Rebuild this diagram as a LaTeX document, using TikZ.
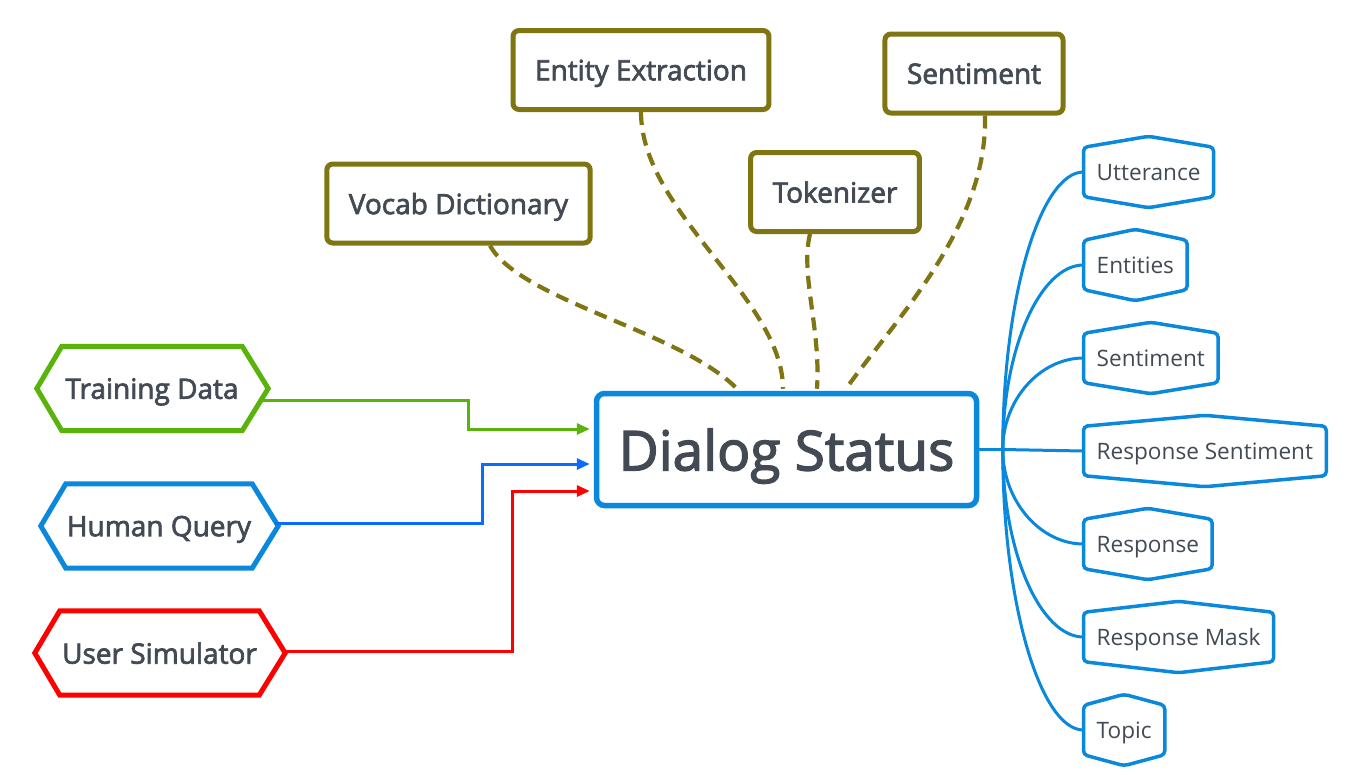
\documentclass[tikz,border=0pt]{standalone}
\usepackage{fontspec}
\setmainfont{Open Sans}
\newfontfamily\semib{Open Sans}[FakeBold=2.5]
\usetikzlibrary{arrows.meta}
\definecolor{txt}{HTML}{434A54}
\definecolor{olv}{HTML}{7F7512}
\definecolor{blu}{HTML}{0A88DC}
\definecolor{grn}{HTML}{58B40A}
\definecolor{qblue}{HTML}{0A6CFF}
\definecolor{rd}{HTML}{FF0000}
\newcommand\leafshape[1]{\draw[leafline] (#1.west) -- (#1.north west) -- ([yshift=11pt]#1.north) -- (#1.north east) -- (#1.south east) -- ([yshift=-11pt]#1.south) -- (#1.south west) -- cycle;}
\newcommand\hexshape[2]{\draw[hexline,draw=#2] (#1.north west) -- (#1.north east) -- ([xshift=26pt]#1.east) -- (#1.south east) -- (#1.south west) -- ([xshift=-25pt]#1.west) -- cycle;}
\tikzset{
  olivebox/.style={draw=olv, line width=5pt, rounded corners=6pt, fill=white, text=txt,
    font=\semib\fontsize{28}{32}\selectfont, text depth=0pt, inner xsep=22pt, inner ysep=0pt, minimum height=79pt},
  hexlabel/.style={text=txt, font=\semib\fontsize{28}{32}\selectfont, text depth=0pt, inner sep=0pt, minimum height=84pt},
  hexline/.style={line width=5pt, line join=miter},
  leaflabel/.style={text=txt, font=\fontsize{22.6}{26}\selectfont, text depth=0pt, inner xsep=13pt, inner ysep=0pt, minimum height=49pt},
  leafline/.style={draw=blu, line width=3.5pt, rounded corners=4pt},
  dashcurve/.style={draw=olv, line width=4.2pt, dash pattern=on 13pt off 8pt},
  arr/.style={line width=3pt, -{Triangle[length=13pt,width=11pt]}},
  branch/.style={draw=blu, line width=3pt},
  mainbox/.style={draw=blu, line width=5.5pt, rounded corners=8pt, fill=white, text=txt,
    font=\semib\fontsize{55}{62}\selectfont, text depth=0pt, minimum width=380pt, minimum height=112pt, inner sep=0pt},
}
\begin{document}
\begin{tikzpicture}[x=1pt,y=-1pt]
\useasboundingbox (0,0) rectangle (1367,774);
\fill[white] (0,0) rectangle (1367,774);

% main node
\node[mainbox] (ds) at (786.5,449.5) {Dialog Status};

% top olive boxes
\node[olivebox] (ee) at (641,70) {Entity Extraction};
\node[olivebox] (st) at (974,73.5) {Sentiment};
\node[olivebox] (vd) at (458.5,203.5) {Vocab Dictionary};
\node[olivebox] (tk) at (835,192) {Tokenizer};

% dashed curves
\draw[dashcurve] ([xshift=31.5pt]vd.south) .. controls +(30,55) and +(-57,-58) .. ([xshift=-49.5pt,yshift=2pt]ds.north);
\draw[dashcurve] (ee.south) .. controls +(0,100) and +(0,-90) .. ([xshift=-3.5pt,yshift=2pt]ds.north);
\draw[dashcurve] ([xshift=-25pt]tk.south) .. controls +(-10,40) and +(4,-60) .. ([xshift=30.5pt,yshift=2pt]ds.north);
\draw[dashcurve] ([xshift=11pt]st.south) .. controls +(3,110) and +(50,-70) .. ([xshift=59.5pt,yshift=2pt]ds.north);

% left hexagons
\node[hexlabel, minimum width=180pt] (td) at (152,388.5) {Training Data};
\hexshape{td}{grn}
\node[hexlabel, minimum width=186pt] (hq) at (159,526) {Human Query};
\hexshape{hq}{blu}
\node[hexlabel, minimum width=199pt] (us) at (159.5,653) {User Simulator};
\hexshape{us}{rd}

% arrows into main node
\draw[arr, grn] ([xshift=19pt,yshift=-11.5pt]td.east) -- ++(207,0) |- ([xshift=-4pt,yshift=20.5pt]ds.west);
\draw[arr, qblue] ([xshift=23pt,yshift=3pt]hq.east) -- ++(207,0) |- ([xshift=-4pt,yshift=-14.5pt]ds.west);
\draw[arr, rd] ([xshift=26pt,yshift=2pt]us.east) -- ++(227,0) |- ([xshift=-4pt,yshift=-41.5pt]ds.west);

% right leaves
\node[leaflabel, anchor=west] (ut) at (1083.5,172) {Utterance};
\leafshape{ut}
\node[leaflabel, anchor=west] (en) at (1083.5,265) {Entities};
\leafshape{en}
\node[leaflabel, anchor=west] (se) at (1083.5,358) {Sentiment};
\leafshape{se}
\node[leaflabel, anchor=west] (rs) at (1083.5,451) {Response Sentiment};
\leafshape{rs}
\node[leaflabel, anchor=west] (re) at (1083.5,544) {Response};
\leafshape{re}
\node[leaflabel, anchor=west] (rm) at (1083.5,637) {Response Mask};
\leafshape{rm}
\node[leaflabel, anchor=west] (tp) at (1083.5,730) {Topic};
\leafshape{tp}

% branches
\coordinate (hub) at ([xshift=23.5pt]ds.east);
\draw[branch] (ds.east) -- (hub);
\draw[branch] (hub) -- (rs.west);
\draw[branch] (hub) .. controls +(0,-152.6) and +(-43,0) .. (ut.west);
\draw[branch] (hub) .. controls +(0,-101.5) and +(-43,0) .. (en.west);
\draw[branch] (hub) .. controls +(0,-50.3) and +(-43,0) .. (se.west);
\draw[branch] (hub) .. controls +(0,52) and +(-43,0) .. (re.west);
\draw[branch] (hub) .. controls +(0,103) and +(-43,0) .. (rm.west);
\draw[branch] (hub) .. controls +(0,154) and +(-43,0) .. (tp.west);
\end{tikzpicture}
\end{document}
